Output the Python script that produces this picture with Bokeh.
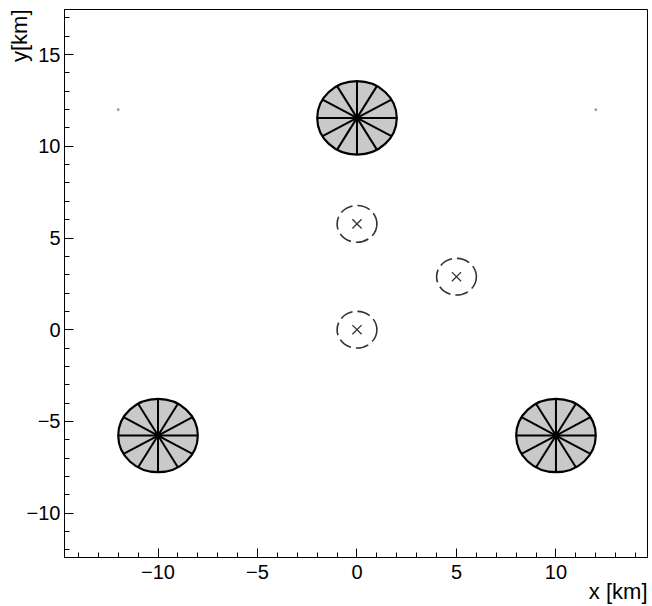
import numpy as np
from bokeh.plotting import figure
from bokeh.models import Range1d, FixedTicker, Title
from bokeh.embed import file_html
from bokeh.resources import INLINE

# ---- data ----
wheel_x = [0.0, -10.0, 10.0]
wheel_y = [11.55, -5.77, -5.77]
wheel_r = [2.0, 2.0, 2.0]
n_spokes = 12

site_x = [0.0, 5.0, 0.0]
site_y = [5.77, 2.89, 0.0]
site_r = [1.0, 1.0, 1.0]

dot_x = [-12.0, 12.0]
dot_y = [12.0, 12.0]

x_major = [-10, -5, 0, 5, 10]
x_labels = ["\u221210", "\u22125", "0", "5", "10"]
y_major = [-10, -5, 0, 5, 10, 15]
y_labels = ["\u221210", "\u22125", "0", "5", "10", "15"]
x_minor = list(range(-14, 15))
y_minor = list(range(-12, 18))
x_title = "x [km]"
y_title = "y[km]"

x_lo, x_hi = -14.7, 14.6
y_lo, y_hi = -12.42, 17.46

FONT = "Liberation Sans"

p = figure(width=652, height=606, output_backend="svg", toolbar_location=None,
           x_range=Range1d(x_lo, x_hi), y_range=Range1d(y_lo, y_hi),
           min_border_left=64, min_border_right=5, min_border_top=9, min_border_bottom=49)
p.grid.visible = False
p.background_fill_color = "white"
p.border_fill_color = "white"
p.outline_line_color = "black"
p.outline_line_width = 1

for ax, major, minor, labels in ((p.xaxis[0], x_major, x_minor, x_labels),
                                  (p.yaxis[0], y_major, y_minor, y_labels)):
    ax.ticker = FixedTicker(ticks=major, minor_ticks=minor)
    ax.major_label_overrides = {m: l for m, l in zip(major, labels)}
    ax.major_tick_in = 9
    ax.major_tick_out = 0
    ax.minor_tick_in = 5
    ax.minor_tick_out = 0
    ax.axis_line_color = "black"
    ax.major_tick_line_color = "black"
    ax.minor_tick_line_color = "black"
    ax.major_label_text_font = FONT
    ax.major_label_text_font_size = "20px"
    ax.major_label_text_color = "black"

p.xaxis[0].major_label_standoff = 7
p.yaxis[0].major_label_standoff = 4

p.add_layout(Title(text=x_title, align="right", text_font=FONT, text_font_size="22px",
                   text_font_style="normal", text_color="black", standoff=-10), "below")
p.add_layout(Title(text=y_title, align="right", text_font=FONT, text_font_size="22px",
                   text_font_style="normal", text_color="black", standoff=-17), "left")

# wheels
wx = np.array(wheel_x); wy = np.array(wheel_y); wr = np.array(wheel_r)
p.ellipse(x=wx, y=wy, width=2 * wr, height=2 * wr, fill_color="#c9c9c9",
          line_color="black", line_width=2.2)
ang = np.arange(n_spokes) * 2 * np.pi / n_spokes
sx0 = np.repeat(wx, n_spokes); sy0 = np.repeat(wy, n_spokes)
rr = np.repeat(wr, n_spokes); aa = np.tile(ang, len(wx))
p.segment(x0=sx0, y0=sy0, x1=sx0 + rr * np.cos(aa), y1=sy0 + rr * np.sin(aa),
          line_color="black", line_width=2)
p.scatter(x=wx, y=wy, size=6, fill_color="black", line_color="black")

# sites
sr = np.array(site_r)
p.ellipse(x=site_x, y=site_y, width=2 * sr, height=2 * sr, fill_color=None,
          line_color="#333333", line_width=1.6, line_dash="13 5")
p.scatter(x=site_x, y=site_y, marker="x", size=13, line_color="#333333", line_width=1.3)

# tiny dots
p.scatter(x=dot_x, y=dot_y, size=2, fill_color="#999999", line_color="#999999")

open("out.html", "w").write(file_html(p, INLINE))
